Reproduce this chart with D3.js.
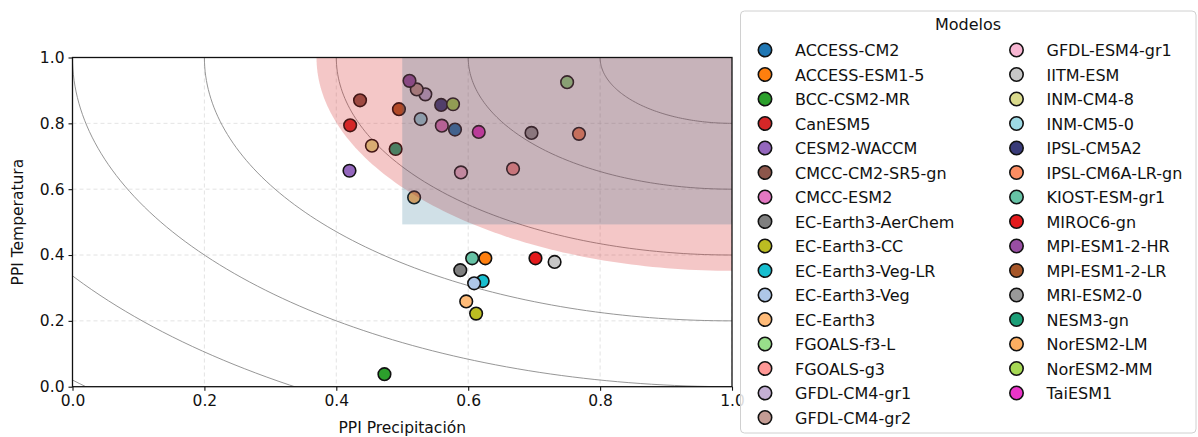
<!DOCTYPE html>
<html>
<head>
<meta charset="utf-8">
<script src="https://cdn.jsdelivr.net/npm/d3@7"></script>
<style>
  body { margin: 0; background: #fff; }
  svg { font-family: "DejaVu Sans", sans-serif; }
</style>
</head>
<body>
<svg id="chart" width="1198" height="437"></svg>
<script>
// model names, colours and PPI values (precipitation, temperature)
var models = ["ACCESS-CM2", "ACCESS-ESM1-5", "BCC-CSM2-MR", "CanESM5", "CESM2-WACCM",
  "CMCC-CM2-SR5-gn", "CMCC-ESM2", "EC-Earth3-AerChem", "EC-Earth3-CC", "EC-Earth3-Veg-LR",
  "EC-Earth3-Veg", "EC-Earth3", "FGOALS-f3-L", "FGOALS-g3", "GFDL-CM4-gr1", "GFDL-CM4-gr2",
  "GFDL-ESM4-gr1", "IITM-ESM", "INM-CM4-8", "INM-CM5-0", "IPSL-CM5A2", "IPSL-CM6A-LR-gn",
  "KIOST-ESM-gr1", "MIROC6-gn", "MPI-ESM1-2-HR", "MPI-ESM1-2-LR", "MRI-ESM2-0", "NESM3-gn",
  "NorESM2-LM", "NorESM2-MM", "TaiESM1"];
var colors = ["#1f77b4", "#ff7f0e", "#2ca02c", "#d62728", "#9467bd",
  "#8c564b", "#e377c2", "#7f7f7f", "#bcbd22", "#17becf",
  "#aec7e8", "#ffbb78", "#98df8a", "#ff9896", "#c5b0d5", "#c49c94",
  "#f7b6d2", "#c7c7c7", "#dbdb8d", "#9edae5", "#393b79", "#fc8d62",
  "#66c2a5", "#e41a1c", "#984ea3", "#a65628", "#999999", "#1b9e77",
  "#fdae61", "#a6d854", "#ea35c8"];
var ppiPrec = [0.580, 0.626, 0.473, 0.421, 0.420,
  0.436, 0.560, 0.588, 0.612, 0.622,
  0.609, 0.597, 0.750, 0.668, 0.535, 0.522,
  0.589, 0.731, 0.454, 0.528, 0.559, 0.768,
  0.606, 0.702, 0.511, 0.495, 0.696, 0.490,
  0.518, 0.577, 0.616];
var ppiTemp = [0.781, 0.390, 0.038, 0.794, 0.656,
  0.870, 0.793, 0.354, 0.222, 0.321,
  0.314, 0.259, 0.925, 0.662, 0.888, 0.903,
  0.651, 0.379, 0.732, 0.813, 0.856, 0.768,
  0.390, 0.390, 0.929, 0.843, 0.771, 0.722,
  0.575, 0.858, 0.774];
var ticks = [0.0, 0.2, 0.4, 0.6, 0.8, 1.0];
var arcRadii = [0.2, 0.4, 0.6, 0.8, 1.0, 1.2, 1.4];
var zoneRx = 0.63, zoneRy = 0.648;   // shaded zone round (1,1)
var boxMin = [0.5, 0.493];           // rectangle x>=, y>=

var svg = d3.select("#chart");
var L = 72.5, R = 732, T = 57.5, B = 386.7;
var x = d3.scaleLinear().domain([0, 1]).range([L, R]);
var y = d3.scaleLinear().domain([0, 1]).range([B, T]);

svg.append("clipPath").attr("id", "plotclip")
  .append("rect").attr("x", L).attr("y", T).attr("width", R - L).attr("height", B - T);
var plot = svg.append("g").attr("clip-path", "url(#plotclip)");

// grid
plot.selectAll(".gx").data(ticks).enter().append("line")
  .attr("x1", function (d) { return x(d); }).attr("x2", function (d) { return x(d); })
  .attr("y1", T).attr("y2", B)
  .attr("stroke", "#dcdcdc").attr("stroke-width", 0.8).attr("stroke-dasharray", "4,3");
plot.selectAll(".gy").data(ticks).enter().append("line")
  .attr("y1", function (d) { return y(d); }).attr("y2", function (d) { return y(d); })
  .attr("x1", L).attr("x2", R)
  .attr("stroke", "#dcdcdc").attr("stroke-width", 0.8).attr("stroke-dasharray", "4,3");

// distance arcs from (1,1)
var angles = d3.range(0, 91).map(function (a) { return a * Math.PI / 180; });
var arcLine = d3.line();
arcRadii.forEach(function (r) {
  var pts = angles.map(function (a) { return [x(1 - r * Math.cos(a)), y(1 - r * Math.sin(a))]; });
  plot.append("path").attr("d", arcLine(pts))
    .attr("fill", "none").attr("stroke", "#8a8a8a").attr("stroke-width", 0.9);
});

// points
plot.selectAll(".pt").data(models).enter().append("circle")
  .attr("cx", function (d, i) { return x(ppiPrec[i]); })
  .attr("cy", function (d, i) { return y(ppiTemp[i]); })
  .attr("r", 6.3)
  .attr("fill", function (d, i) { return colors[i]; })
  .attr("stroke", "#111").attr("stroke-width", 1.6);

// shaded zones on top
var zonePts = angles.map(function (a) { return [x(1 - zoneRx * Math.cos(a)), y(1 - zoneRy * Math.sin(a))]; });
zonePts.push([x(1), y(1)]);
plot.append("path").attr("d", arcLine(zonePts) + "Z")
  .attr("fill", "rgba(214,39,40,0.26)");
plot.append("rect")
  .attr("x", x(boxMin[0])).attr("y", y(1))
  .attr("width", x(1) - x(boxMin[0])).attr("height", y(boxMin[1]) - y(1))
  .attr("fill", "rgba(20,100,135,0.2)");

// axes
var xAxis = svg.append("g").attr("transform", "translate(0," + B + ")")
  .call(d3.axisBottom(x).tickValues(ticks).tickFormat(d3.format(".1f")).tickSize(4).tickPadding(4));
var yAxis = svg.append("g").attr("transform", "translate(" + L + ",0)")
  .call(d3.axisLeft(y).tickValues(ticks).tickFormat(d3.format(".1f")).tickSize(4).tickPadding(4));
[xAxis, yAxis].forEach(function (g) {
  g.select(".domain").remove();
  g.selectAll("text").attr("font-size", 15.5).attr("fill", "#111").attr("font-family", "DejaVu Sans");
  g.selectAll("line").attr("stroke", "#111").attr("stroke-width", 1.1);
});
svg.append("rect").attr("x", L).attr("y", T).attr("width", R - L).attr("height", B - T)
  .attr("fill", "none").attr("stroke", "#111").attr("stroke-width", 1.3);

svg.append("text").attr("x", (L + R) / 2).attr("y", 433).attr("text-anchor", "middle")
  .attr("font-size", 15.5).attr("fill", "#111").text("PPI Precipitación");
svg.append("text").attr("transform", "translate(23," + (T + B) / 2 + ") rotate(-90)")
  .attr("text-anchor", "middle").attr("font-size", 15.5).attr("fill", "#111").text("PPI Temperatura");

// legend
var leg = svg.append("g");
leg.append("rect").attr("x", 740.5).attr("y", 11).attr("width", 455.5).attr("height", 422)
  .attr("rx", 4).attr("fill", "rgba(255,255,255,0.85)").attr("stroke", "#d0d0d0").attr("stroke-width", 1);
leg.append("text").attr("x", 968).attr("y", 30).attr("text-anchor", "middle")
  .attr("font-size", 16).attr("fill", "#111").text("Modelos");
var rows = 16;
var item = leg.selectAll(".li").data(models).enter().append("g")
  .attr("transform", function (d, i) {
    var col = Math.floor(i / rows), row = i % rows;
    return "translate(" + (col ? 1016.5 : 765) + "," + (50 + row * 24.5) + ")";
  });
item.append("circle").attr("r", 6.7)
  .attr("fill", function (d, i) { return colors[i]; })
  .attr("stroke", "#111").attr("stroke-width", 1.6);
item.append("text").attr("x", 30).attr("y", 6).attr("font-size", 16).attr("fill", "#111")
  .text(function (d) { return d; });
</script>
</body>
</html>
